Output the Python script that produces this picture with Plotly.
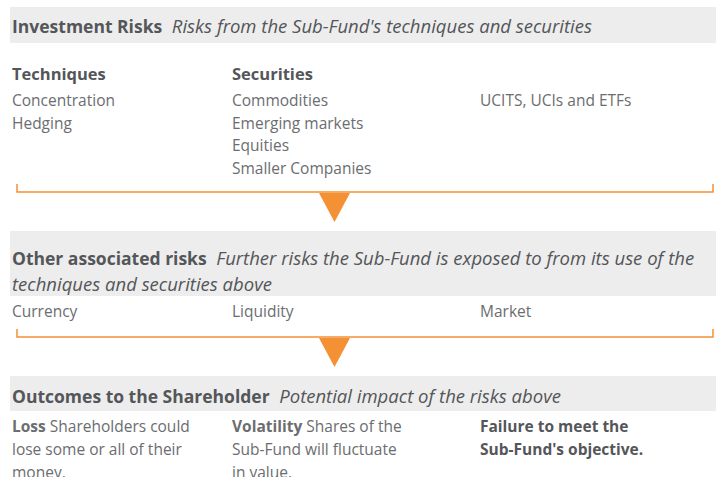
import plotly.graph_objects as go

# content
band_titles = ["Investment Risks", "Other associated risks", "Outcomes to the Shareholder"]
band_subtitles = [
    ["Risks from the Sub-Fund's techniques and securities"],
    ["Further risks the Sub-Fund is exposed to from its use of the", "techniques and securities above"],
    ["Potential impact of the risks above"],
]
techniques = ["Concentration", "Hedging"]
securities = ["Commodities", "Emerging markets", "Equities", "Smaller Companies"]
other_securities = ["UCITS, UCIs and ETFs"]
other_risks = ["Currency", "Liquidity", "Market"]
outcome_heads = ["Loss", "Volatility", "Failure to meet the"]
outcome_lines = [
    ["Shareholders could", "lose some or all of their", "money."],
    ["Shares of the", "Sub-Fund will fluctuate", "in value."],
    ["", "<b>Sub-Fund's objective.</b>"],
]

W, H = 716, 477
FONT = "Open Sans"
DARK = "#545659"
LIGHT = "#6b6d70"
ORANGE = "#f39134"
GREY_BG = "#ededed"
COL_X = [10, 230, 478]
LINE = 22.5

fig = go.Figure()
shapes = []
annos = []


def text(x, y, s, size=15.5, color=LIGHT):
    annos.append(dict(x=x, y=y, text=s, showarrow=False, xanchor="left", yanchor="middle",
                      align="left", font=dict(family=FONT, size=size, color=color)))


def band(y0, y1, i, ty, step=26):
    shapes.append(dict(type="rect", x0=10, x1=W, y0=y0, y1=y1, fillcolor=GREY_BG, line_width=0, layer="below"))
    lines = band_subtitles[i]
    first = (f"<b><span style='font-size:17.5px'>{band_titles[i]}</span></b>"
             f"  <i>{lines[0]}</i>")
    text(COL_X[0], ty, first, size=18.5, color=DARK)
    for k, s in enumerate(lines[1:], start=1):
        text(COL_X[0], ty + k * step, f"<i>{s}</i>", size=18.5, color=DARK)


def bracket(y, tri_top):
    shapes.append(dict(type="path", path=f"M 17,{y-8} L 17,{y} L 713,{y} L 713,{y-8}",
                       line=dict(color=ORANGE, width=1.5)))
    shapes.append(dict(type="path", path=f"M 319,{tri_top} L 350,{tri_top} L 334.5,{tri_top+29} Z",
                       fillcolor=ORANGE, line_width=0))


# section 1
band(7, 43, 0, 25)
text(COL_X[0], 73, "<b>Techniques</b>", size=16.5, color=DARK)
text(COL_X[1], 73, "<b>Securities</b>", size=16.5, color=DARK)
for k, s in enumerate(techniques):
    text(COL_X[0], 100 + k * LINE, s)
for k, s in enumerate(securities):
    text(COL_X[1], 100 + k * LINE, s)
for k, s in enumerate(other_securities):
    text(COL_X[2], 100 + k * LINE, s)
bracket(192, 193)

# section 2
band(231, 296, 1, 257)
for x, s in zip(COL_X, other_risks):
    text(x, 311, s)
bracket(337, 338)

# section 3
band(376, 411, 2, 395)
for x, h, lines in zip(COL_X, outcome_heads, outcome_lines):
    first = f"<b>{h}</b> {lines[0]}" if lines[0] else f"<b>{h}</b>"
    col = LIGHT if lines[0] else DARK
    text(x, 426, first, color=col)
    for k, s in enumerate(lines[1:], start=1):
        text(x, 426 + k * 23, s, color=col)

fig.update_layout(
    width=W, height=H, margin=dict(l=0, r=0, t=0, b=0),
    paper_bgcolor="white", plot_bgcolor="white",
    xaxis=dict(range=[0, W], visible=False, fixedrange=True),
    yaxis=dict(range=[H, 0], visible=False, fixedrange=True),
    shapes=shapes, annotations=annos, showlegend=False,
)
fig.write_html("out.html", config={"displayModeBar": False},
               post_script="document.body.style.margin='0';")
